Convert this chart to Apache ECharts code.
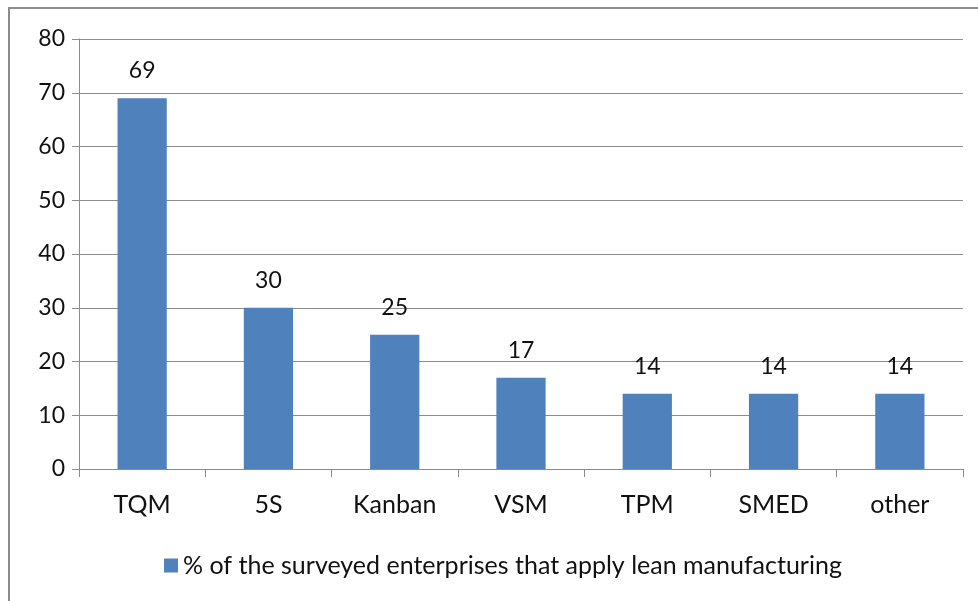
<!DOCTYPE html>
<html><head><meta charset="utf-8">
<script src="https://cdn.jsdelivr.net/npm/echarts@6/dist/echarts.min.js"></script>
<style>html,body{margin:0;padding:0;background:#fff}#c{width:978px;height:601px}</style>
</head><body><div id="c"></div>
<script>
const categories = ['TQM','5S','Kanban','VSM','TPM','SMED','other'];
const values = [69,30,25,17,14,14,14];
const seriesName = '% of the surveyed enterprises that apply lean manufacturing';
const yTicks = [0,10,20,30,40,50,60,70,80];

const chart = echarts.init(document.getElementById('c'), null, {renderer:'canvas'});
const font = "Lato, 'Open Sans', sans-serif";
chart.setOption({
  animation:false,
  backgroundColor:'#fff',
  graphic:[{type:'rect', shape:{x:9,y:8,width:1100,height:700}, style:{fill:'none', stroke:'#8c8c8c', lineWidth:2}, silent:true}],
  grid:{left:79,right:15,top:39,bottom:132},
  legend:{
    data:[seriesName], top:548, left:159, itemWidth:14, itemHeight:14, itemGap:7,
    icon:'rect',
    textStyle:{fontFamily:font, fontSize:25, color:'#111'}
  },
  xAxis:{
    type:'category', data:categories,
    axisLine:{lineStyle:{color:'#8c8c8c', width:1}},
    axisTick:{show:true, length:8, alignWithLabel:false, lineStyle:{color:'#8c8c8c'}},
    axisLabel:{fontFamily:font, fontSize:25, color:'#111', margin:23}
  },
  yAxis:{
    type:'value', min:yTicks[0], max:yTicks[yTicks.length-1], interval:10,
    axisLine:{show:true, lineStyle:{color:'#8c8c8c'}},
    axisTick:{show:true, length:7, lineStyle:{color:'#8c8c8c'}},
    splitLine:{lineStyle:{color:'#8c8c8c'}},
    axisLabel:{fontFamily:font, fontSize:23, color:'#111', margin:14}
  },
  series:[{
    name:seriesName, type:'bar', data:values, barWidth:'39%',
    itemStyle:{color:'#4f81bd'},
    label:{show:true, position:'top', distance:16, fontFamily:font, fontSize:23, color:'#111'}
  }]
});
</script></body></html>
